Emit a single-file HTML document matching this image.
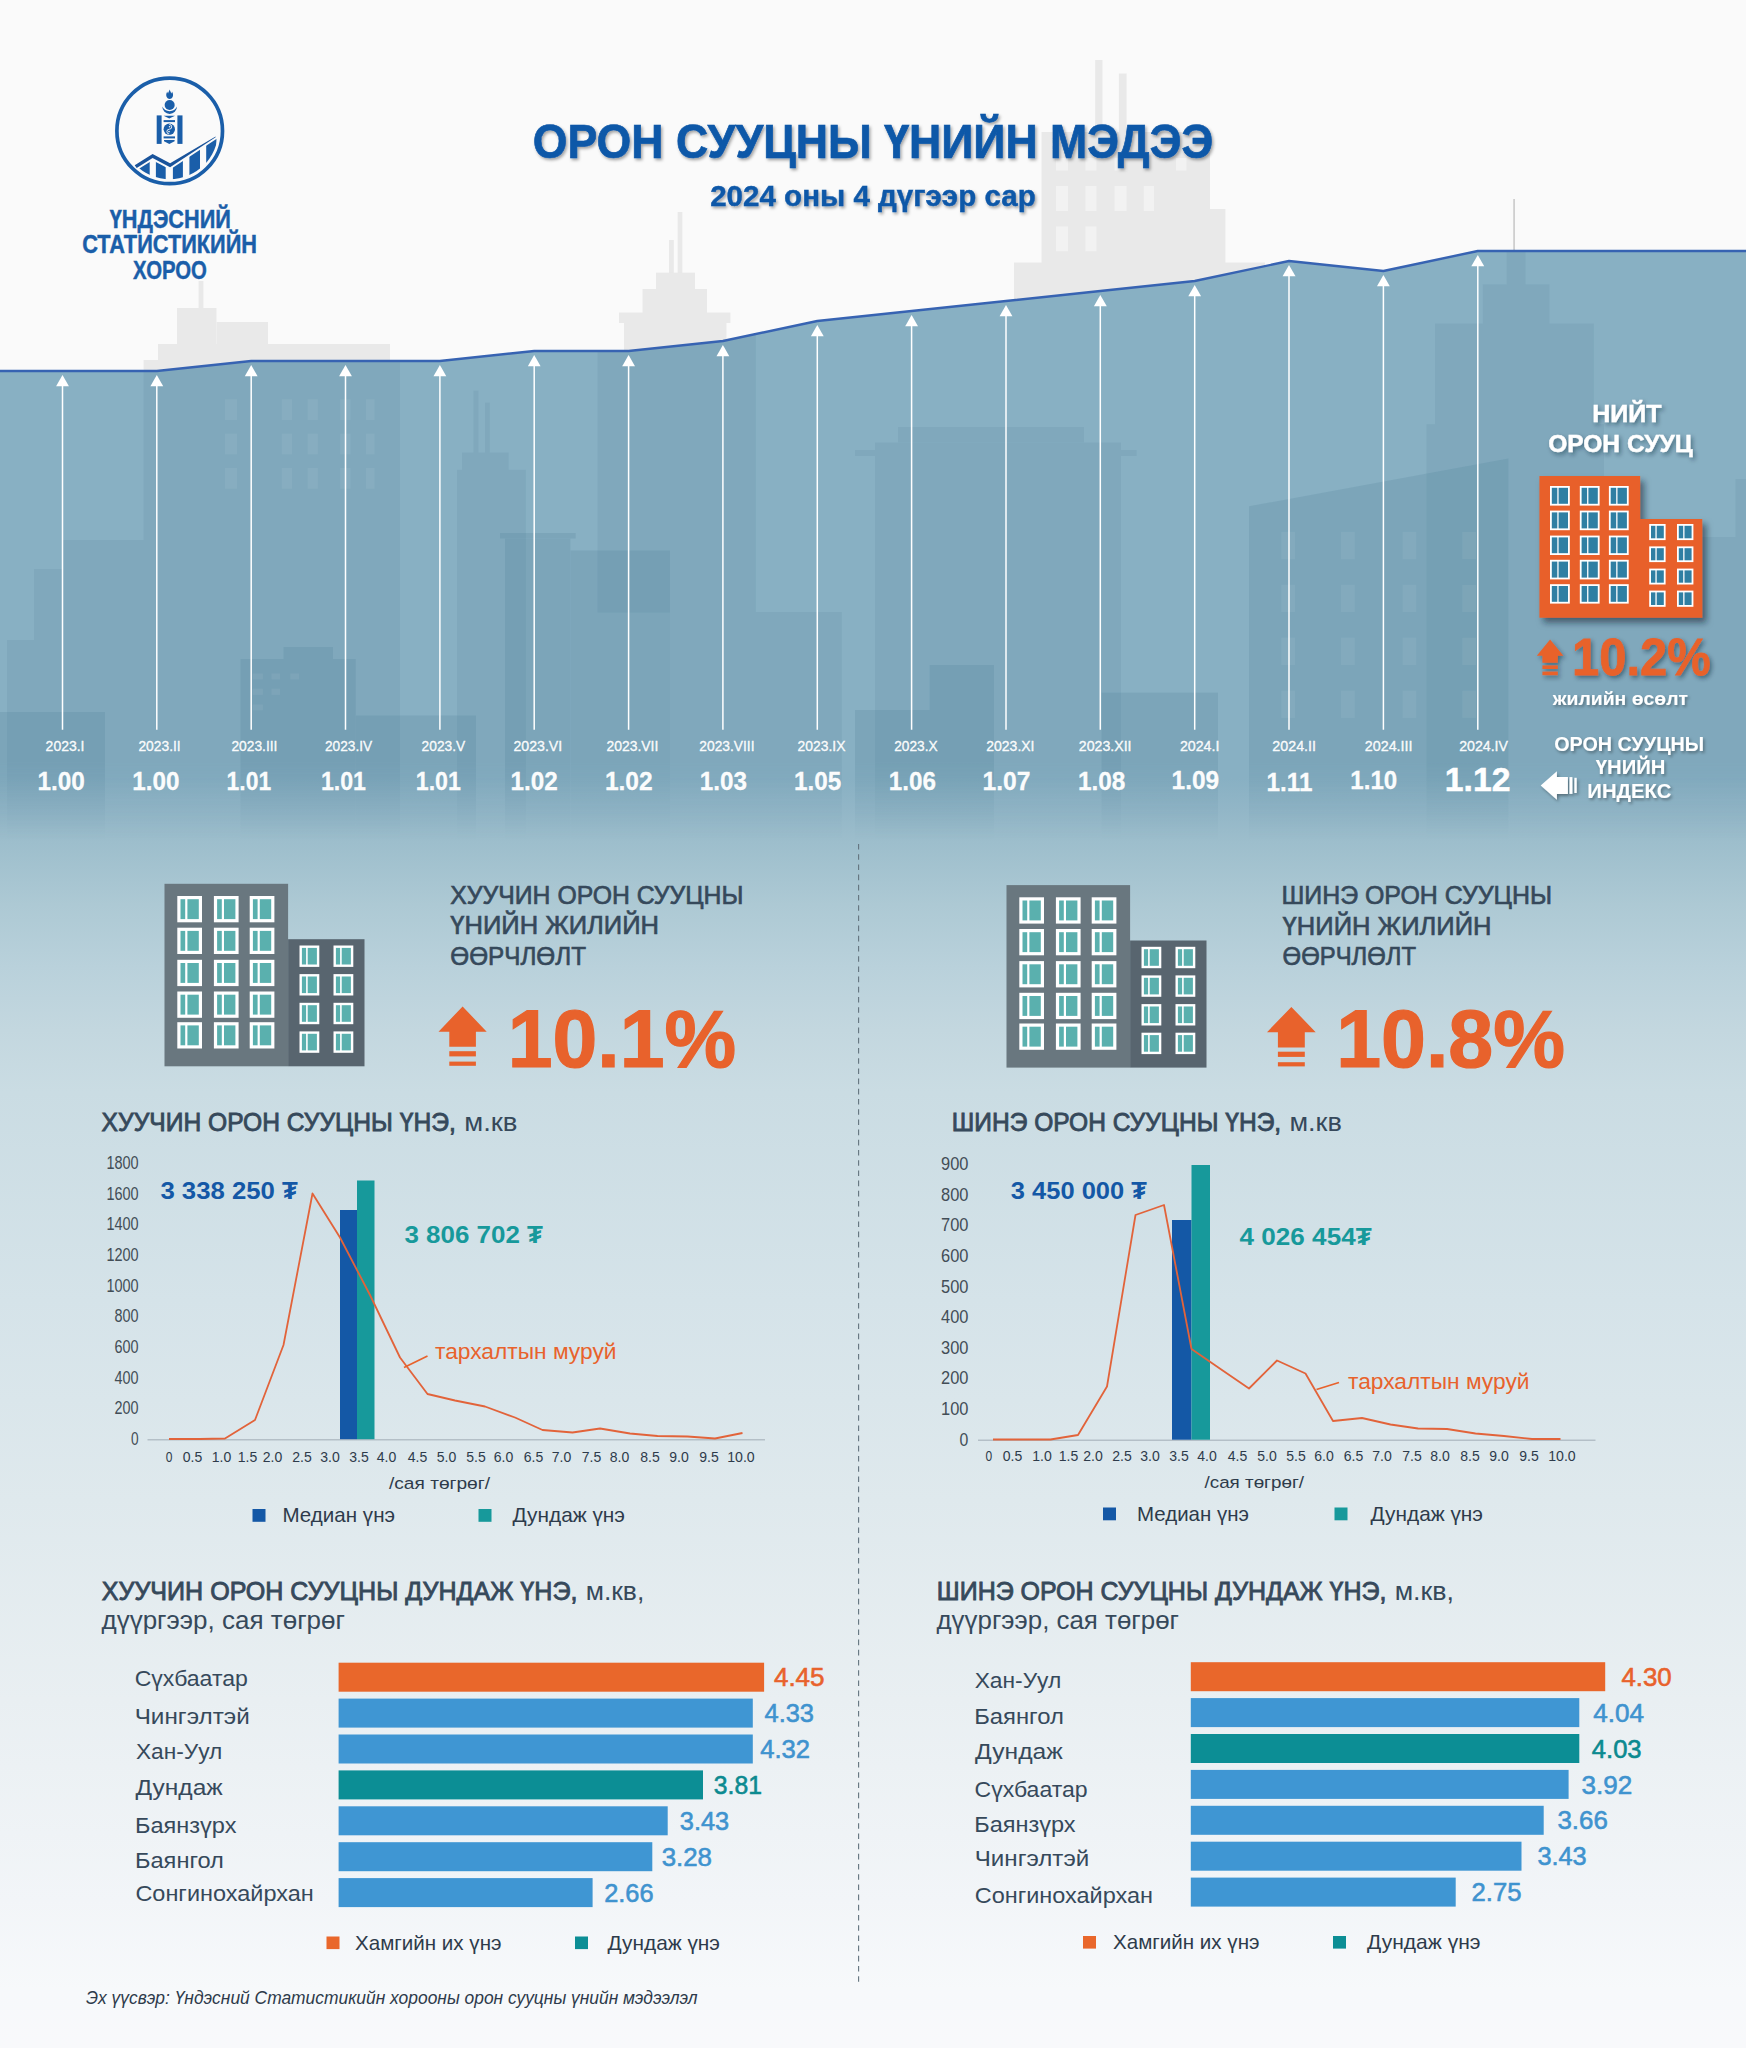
<!DOCTYPE html>
<html lang="mn"><head><meta charset="utf-8"><title>Орон сууцны үнийн мэдээ</title>
<style>
html,body{margin:0;padding:0;background:#fafafa;}
body{width:1746px;height:2048px;overflow:hidden;font-family:"Liberation Sans",sans-serif;}
svg{display:block;}
text{white-space:pre;}
</style></head><body>
<svg width="1746" height="2048" viewBox="0 0 1746 2048" font-family='"Liberation Sans", sans-serif'>
<defs>
<linearGradient id="bgfade" gradientUnits="userSpaceOnUse" x1="0" y1="0" x2="0" y2="2048"><stop offset="0.0000" stop-color="#88b0c3"/><stop offset="0.3800" stop-color="#88b0c3"/><stop offset="0.3955" stop-color="#92b6c7"/><stop offset="0.4111" stop-color="#9dbecc"/><stop offset="0.4419" stop-color="#adc9d4"/><stop offset="0.4722" stop-color="#b9d1db"/><stop offset="0.5029" stop-color="#c3d7df"/><stop offset="0.5332" stop-color="#cadce3"/><stop offset="0.6348" stop-color="#d5e3e9"/><stop offset="0.7324" stop-color="#dfe9ed"/><stop offset="0.8301" stop-color="#e9eff2"/><stop offset="0.9277" stop-color="#f2f5f8"/><stop offset="0.9717" stop-color="#f7f9fb"/><stop offset="1.0000" stop-color="#f8f9fb"/></linearGradient>
<linearGradient id="skyfade" gradientUnits="userSpaceOnUse" x1="0" y1="0" x2="0" y2="2048"><stop offset="0" stop-color="#fff" stop-opacity="1"/><stop offset="0.372" stop-color="#fff" stop-opacity="1"/><stop offset="0.41" stop-color="#fff" stop-opacity="0"/></linearGradient>
<clipPath id="areaclip"><polygon points="0.0,371.0 62.5,371.0 156.8,371.0 251.2,361.0 345.5,361.0 439.9,361.0 534.2,351.0 628.6,351.0 722.9,341.0 817.3,321.0 911.6,311.0 1006.0,301.0 1100.3,291.0 1194.7,281.0 1289.0,261.0 1383.4,271.0 1477.8,251.0 1746.0,251.0 1746,2048 0,2048"/></clipPath>
<mask id="skymask"><rect x="0" y="0" width="1746" height="2048" fill="url(#skyfade)"/></mask>
<filter id="ts" x="-10%" y="-20%" width="120%" height="150%"><feDropShadow dx="1.5" dy="2" stdDeviation="1.6" flood-color="#000" flood-opacity="0.35"/></filter>
<filter id="ts2" x="-10%" y="-20%" width="120%" height="150%"><feDropShadow dx="2" dy="2.5" stdDeviation="2" flood-color="#123" flood-opacity="0.45"/></filter>
<filter id="bs" x="-10%" y="-10%" width="125%" height="125%"><feDropShadow dx="4" dy="5" stdDeviation="3.2" flood-color="#0c2030" flood-opacity="0.55"/></filter>
</defs>
<rect x="0" y="0" width="1746" height="2048" fill="#fafafa" />
<g id="skylight" fill="#e9e9e9"><rect x="198.6" y="281" width="4.8" height="139"/><rect x="177" y="308" width="39.5" height="112"/><rect x="216.5" y="322" width="51.5" height="98"/><rect x="158" y="344" width="232" height="76"/><rect x="143.6" y="360" width="14.4" height="60"/><rect x="677.7" y="212" width="4.6" height="208"/><rect x="669" y="240" width="4.8" height="180"/><rect x="656" y="272.7" width="39" height="147.3"/><rect x="642.5" y="289" width="64.5" height="131"/><rect x="619" y="312.5" width="111.4" height="10.5"/><rect x="624" y="323" width="102.5" height="97"/><rect x="1095.2" y="60" width="7.3" height="360"/><rect x="1118.9" y="73.5" width="7.7" height="346.5"/><rect x="1041.5" y="132" width="168.5" height="288"/><rect x="1210" y="209" width="15.4" height="211"/><rect x="1014" y="262.5" width="251" height="157.5"/><rect x="1056" y="186" width="12" height="25" fill="#f2f2f2"/><rect x="1085.4" y="186" width="11.1" height="25" fill="#f2f2f2"/><rect x="1114.6" y="186" width="12.0" height="25" fill="#f2f2f2"/><rect x="1143.8" y="186" width="10.2" height="25" fill="#f2f2f2"/><rect x="1056" y="226.4" width="12" height="24.9" fill="#f2f2f2"/><rect x="1085.4" y="226.4" width="11.1" height="24.9" fill="#f2f2f2"/><rect x="1056" y="158" width="12" height="12.6" fill="#f2f2f2"/><rect x="1085.4" y="158" width="11.1" height="12.6" fill="#f2f2f2"/><rect x="1114.6" y="158" width="12.0" height="12.6" fill="#f2f2f2"/><rect x="1176" y="158" width="10.5" height="12.6" fill="#f2f2f2"/><rect x="1513.2" y="199" width="1.8" height="61" fill="#cfcfcf"/></g>
<polygon points="0.0,371.0 62.5,371.0 156.8,371.0 251.2,361.0 345.5,361.0 439.9,361.0 534.2,351.0 628.6,351.0 722.9,341.0 817.3,321.0 911.6,311.0 1006.0,301.0 1100.3,291.0 1194.7,281.0 1289.0,261.0 1383.4,271.0 1477.8,251.0 1746.0,251.0 1746,2048 0,2048" fill="url(#bgfade)"/>
<g clip-path="url(#areaclip)"><g mask="url(#skymask)" fill="#3f6f8b"><g opacity="0.11"><rect x="143.6" y="340" width="256.4" height="590"/><rect x="62" y="540" width="151" height="390"/><rect x="34" y="571" width="28" height="359"/><rect x="34" y="569" width="45" height="8"/><rect x="7" y="640" width="41" height="290"/><rect x="462" y="452.6" width="46.6" height="477.4"/><rect x="457" y="469.8" width="68.8" height="460.2"/><rect x="473.5" y="390.7" width="4.9" height="62.3"/><rect x="485" y="402.7" width="4.7" height="50.3"/><rect x="597.6" y="300" width="158.2" height="312.5"/><rect x="670" y="612" width="171.7" height="318"/><rect x="875" y="442.6" width="246" height="487.4"/><rect x="898" y="427" width="186" height="15.6"/><rect x="855" y="450" width="281.6" height="6"/><rect x="1506.7" y="240" width="18.8" height="51"/><rect x="1482.8" y="284.4" width="66.6" height="39.6"/><rect x="1435" y="323.6" width="158.8" height="101.4"/><rect x="1426.5" y="424.3" width="177.5" height="505.7"/><rect x="1604" y="537" width="142" height="393"/><rect x="1735.5" y="479" width="10.5" height="58"/></g><g opacity="0.16"><rect x="0" y="712" width="105" height="218"/><rect x="240.5" y="659" width="115.2" height="271"/><rect x="283.5" y="647" width="49.5" height="12"/><rect x="355.7" y="715.5" width="120.3" height="214.5"/><rect x="505" y="538.5" width="65.4" height="391.5"/><rect x="500" y="533" width="75.6" height="5.5"/><rect x="570.4" y="550.5" width="99.6" height="379.5"/><rect x="855" y="710" width="139" height="220"/><rect x="929.6" y="665" width="64.4" height="45"/><rect x="1101.5" y="692.6" width="116.5" height="237.4"/><polygon points="1249,506.3 1508.4,458.5 1508.4,930 1249,930"/></g><g opacity="0.055" fill="#fff"><rect x="1281.4" y="531.9" width="13.6" height="27.3"/><rect x="1281.4" y="584.8" width="13.6" height="27.2"/><rect x="1281.4" y="637.7" width="13.6" height="27.3"/><rect x="1281.4" y="690.6" width="13.6" height="27.3"/><rect x="1341" y="531.9" width="13.8" height="27.3"/><rect x="1341" y="584.8" width="13.8" height="27.2"/><rect x="1341" y="637.7" width="13.8" height="27.3"/><rect x="1341" y="690.6" width="13.8" height="27.3"/><rect x="1402.6" y="531.9" width="13.6" height="27.3"/><rect x="1402.6" y="584.8" width="13.6" height="27.2"/><rect x="1402.6" y="637.7" width="13.6" height="27.3"/><rect x="1402.6" y="690.6" width="13.6" height="27.3"/><rect x="1462.3" y="531.9" width="13.7" height="27.3"/><rect x="1462.3" y="584.8" width="13.7" height="27.2"/><rect x="1462.3" y="637.7" width="13.7" height="27.3"/><rect x="1462.3" y="690.6" width="13.7" height="27.3"/><rect x="252.6" y="673.5" width="10.3" height="5.9"/><rect x="271.5" y="673.5" width="8.5" height="5.9"/><rect x="290.4" y="673.5" width="8.6" height="5.9"/><rect x="252.6" y="688.7" width="10.3" height="6.1"/><rect x="271.5" y="688.7" width="8.5" height="6.1"/><rect x="252.6" y="704.5" width="10.3" height="5.8"/><rect x="225" y="399.3" width="12" height="20.7"/><rect x="225" y="433.7" width="12" height="20.6"/><rect x="225" y="468" width="12" height="20.7"/><rect x="281.8" y="399.3" width="10.2" height="20.7"/><rect x="281.8" y="433.7" width="10.2" height="20.6"/><rect x="281.8" y="468" width="10.2" height="20.7"/><rect x="307.6" y="399.3" width="10.3" height="20.7"/><rect x="307.6" y="433.7" width="10.3" height="20.6"/><rect x="307.6" y="468" width="10.3" height="20.7"/><rect x="340.2" y="399.3" width="10.3" height="20.7"/><rect x="340.2" y="433.7" width="10.3" height="20.6"/><rect x="340.2" y="468" width="10.3" height="20.7"/><rect x="366" y="399.3" width="8.6" height="20.7"/><rect x="366" y="433.7" width="8.6" height="20.6"/><rect x="366" y="468" width="8.6" height="20.7"/></g></g></g>
<polyline points="0.0,371.0 62.5,371.0 156.8,371.0 251.2,361.0 345.5,361.0 439.9,361.0 534.2,351.0 628.6,351.0 722.9,341.0 817.3,321.0 911.6,311.0 1006.0,301.0 1100.3,291.0 1194.7,281.0 1289.0,261.0 1383.4,271.0 1477.8,251.0 1746.0,251.0" fill="none" stroke="#3763b2" stroke-width="2.4" stroke-linejoin="round"/>
<line x1="62.5" y1="383.0" x2="62.5" y2="729.7" stroke="#fff" stroke-width="1.5"/>
<polygon points="62.5,375.0 56.1,386.2 68.9,386.2" fill="#fff"/>
<line x1="156.8" y1="383.0" x2="156.8" y2="729.7" stroke="#fff" stroke-width="1.5"/>
<polygon points="156.8,375.0 150.4,386.2 163.2,386.2" fill="#fff"/>
<line x1="251.2" y1="373.0" x2="251.2" y2="729.7" stroke="#fff" stroke-width="1.5"/>
<polygon points="251.2,365.0 244.8,376.2 257.6,376.2" fill="#fff"/>
<line x1="345.5" y1="373.0" x2="345.5" y2="729.7" stroke="#fff" stroke-width="1.5"/>
<polygon points="345.5,365.0 339.1,376.2 351.9,376.2" fill="#fff"/>
<line x1="439.9" y1="373.0" x2="439.9" y2="729.7" stroke="#fff" stroke-width="1.5"/>
<polygon points="439.9,365.0 433.5,376.2 446.3,376.2" fill="#fff"/>
<line x1="534.2" y1="363.0" x2="534.2" y2="729.7" stroke="#fff" stroke-width="1.5"/>
<polygon points="534.2,355.0 527.9,366.2 540.6,366.2" fill="#fff"/>
<line x1="628.6" y1="363.0" x2="628.6" y2="729.7" stroke="#fff" stroke-width="1.5"/>
<polygon points="628.6,355.0 622.2,366.2 635.0,366.2" fill="#fff"/>
<line x1="722.9" y1="353.0" x2="722.9" y2="729.7" stroke="#fff" stroke-width="1.5"/>
<polygon points="722.9,345.0 716.5,356.2 729.3,356.2" fill="#fff"/>
<line x1="817.3" y1="333.0" x2="817.3" y2="729.7" stroke="#fff" stroke-width="1.5"/>
<polygon points="817.3,325.0 810.9,336.2 823.7,336.2" fill="#fff"/>
<line x1="911.6" y1="323.0" x2="911.6" y2="729.7" stroke="#fff" stroke-width="1.5"/>
<polygon points="911.6,315.0 905.2,326.2 918.0,326.2" fill="#fff"/>
<line x1="1006.0" y1="313.0" x2="1006.0" y2="729.7" stroke="#fff" stroke-width="1.5"/>
<polygon points="1006.0,305.0 999.6,316.2 1012.4,316.2" fill="#fff"/>
<line x1="1100.3" y1="303.0" x2="1100.3" y2="729.7" stroke="#fff" stroke-width="1.5"/>
<polygon points="1100.3,295.0 1093.9,306.2 1106.8,306.2" fill="#fff"/>
<line x1="1194.7" y1="293.0" x2="1194.7" y2="729.7" stroke="#fff" stroke-width="1.5"/>
<polygon points="1194.7,285.0 1188.3,296.2 1201.1,296.2" fill="#fff"/>
<line x1="1289.0" y1="273.0" x2="1289.0" y2="729.7" stroke="#fff" stroke-width="1.5"/>
<polygon points="1289.0,265.0 1282.6,276.2 1295.5,276.2" fill="#fff"/>
<line x1="1383.4" y1="283.0" x2="1383.4" y2="729.7" stroke="#fff" stroke-width="1.5"/>
<polygon points="1383.4,275.0 1377.0,286.2 1389.8,286.2" fill="#fff"/>
<line x1="1477.8" y1="263.0" x2="1477.8" y2="729.7" stroke="#fff" stroke-width="1.5"/>
<polygon points="1477.8,255.0 1471.3,266.2 1484.2,266.2" fill="#fff"/>
<text x="45.6" y="751.3" font-size="14.8" fill="#fff" textLength="38.9" lengthAdjust="spacingAndGlyphs" stroke="#fff" stroke-width="0.4" fill-opacity="0.95" stroke-opacity="0.9">2023.I</text>
<text x="138.4" y="751.3" font-size="14.8" fill="#fff" textLength="42.3" lengthAdjust="spacingAndGlyphs" stroke="#fff" stroke-width="0.4" fill-opacity="0.95" stroke-opacity="0.9">2023.II</text>
<text x="231.4" y="751.3" font-size="14.8" fill="#fff" textLength="46.0" lengthAdjust="spacingAndGlyphs" stroke="#fff" stroke-width="0.4" fill-opacity="0.95" stroke-opacity="0.9">2023.III</text>
<text x="324.9" y="751.3" font-size="14.8" fill="#fff" textLength="47.3" lengthAdjust="spacingAndGlyphs" stroke="#fff" stroke-width="0.4" fill-opacity="0.95" stroke-opacity="0.9">2023.IV</text>
<text x="421.6" y="751.3" font-size="14.8" fill="#fff" textLength="43.6" lengthAdjust="spacingAndGlyphs" stroke="#fff" stroke-width="0.4" fill-opacity="0.95" stroke-opacity="0.9">2023.V</text>
<text x="513.5" y="751.3" font-size="14.8" fill="#fff" textLength="48.7" lengthAdjust="spacingAndGlyphs" stroke="#fff" stroke-width="0.4" fill-opacity="0.95" stroke-opacity="0.9">2023.VI</text>
<text x="606.5" y="751.3" font-size="14.8" fill="#fff" textLength="51.8" lengthAdjust="spacingAndGlyphs" stroke="#fff" stroke-width="0.4" fill-opacity="0.95" stroke-opacity="0.9">2023.VII</text>
<text x="699.3" y="751.3" font-size="14.8" fill="#fff" textLength="55.2" lengthAdjust="spacingAndGlyphs" stroke="#fff" stroke-width="0.4" fill-opacity="0.95" stroke-opacity="0.9">2023.VIII</text>
<text x="797.5" y="751.3" font-size="14.8" fill="#fff" textLength="47.9" lengthAdjust="spacingAndGlyphs" stroke="#fff" stroke-width="0.4" fill-opacity="0.95" stroke-opacity="0.9">2023.IX</text>
<text x="894.2" y="751.3" font-size="14.8" fill="#fff" textLength="43.4" lengthAdjust="spacingAndGlyphs" stroke="#fff" stroke-width="0.4" fill-opacity="0.95" stroke-opacity="0.9">2023.X</text>
<text x="986.3" y="751.3" font-size="14.8" fill="#fff" textLength="48.2" lengthAdjust="spacingAndGlyphs" stroke="#fff" stroke-width="0.4" fill-opacity="0.95" stroke-opacity="0.9">2023.XI</text>
<text x="1078.8" y="751.3" font-size="14.8" fill="#fff" textLength="52.7" lengthAdjust="spacingAndGlyphs" stroke="#fff" stroke-width="0.4" fill-opacity="0.95" stroke-opacity="0.9">2023.XII</text>
<text x="1179.9" y="751.3" font-size="14.8" fill="#fff" textLength="39.5" lengthAdjust="spacingAndGlyphs" stroke="#fff" stroke-width="0.4" fill-opacity="0.95" stroke-opacity="0.9">2024.I</text>
<text x="1272.3" y="751.3" font-size="14.8" fill="#fff" textLength="43.7" lengthAdjust="spacingAndGlyphs" stroke="#fff" stroke-width="0.4" fill-opacity="0.95" stroke-opacity="0.9">2024.II</text>
<text x="1364.8" y="751.3" font-size="14.8" fill="#fff" textLength="47.7" lengthAdjust="spacingAndGlyphs" stroke="#fff" stroke-width="0.4" fill-opacity="0.95" stroke-opacity="0.9">2024.III</text>
<text x="1459.2" y="751.3" font-size="14.8" fill="#fff" textLength="48.8" lengthAdjust="spacingAndGlyphs" stroke="#fff" stroke-width="0.4" fill-opacity="0.95" stroke-opacity="0.9">2024.IV</text>
<text x="37.5" y="790.2" font-size="25" fill="#fff" font-weight="bold" textLength="47.4" lengthAdjust="spacingAndGlyphs" stroke="#fff" stroke-width="0.3" fill-opacity="0.97">1.00</text>
<text x="132.3" y="790.2" font-size="25" fill="#fff" font-weight="bold" textLength="47.2" lengthAdjust="spacingAndGlyphs" stroke="#fff" stroke-width="0.3" fill-opacity="0.97">1.00</text>
<text x="226.6" y="790.2" font-size="25" fill="#fff" font-weight="bold" textLength="44.6" lengthAdjust="spacingAndGlyphs" stroke="#fff" stroke-width="0.3" fill-opacity="0.97">1.01</text>
<text x="320.9" y="790.2" font-size="25" fill="#fff" font-weight="bold" textLength="45.1" lengthAdjust="spacingAndGlyphs" stroke="#fff" stroke-width="0.3" fill-opacity="0.97">1.01</text>
<text x="415.8" y="790.2" font-size="25" fill="#fff" font-weight="bold" textLength="45.1" lengthAdjust="spacingAndGlyphs" stroke="#fff" stroke-width="0.3" fill-opacity="0.97">1.01</text>
<text x="510.6" y="790.2" font-size="25" fill="#fff" font-weight="bold" textLength="47.2" lengthAdjust="spacingAndGlyphs" stroke="#fff" stroke-width="0.3" fill-opacity="0.97">1.02</text>
<text x="604.9" y="790.2" font-size="25" fill="#fff" font-weight="bold" textLength="47.8" lengthAdjust="spacingAndGlyphs" stroke="#fff" stroke-width="0.3" fill-opacity="0.97">1.02</text>
<text x="699.8" y="790.2" font-size="25" fill="#fff" font-weight="bold" textLength="47.2" lengthAdjust="spacingAndGlyphs" stroke="#fff" stroke-width="0.3" fill-opacity="0.97">1.03</text>
<text x="794.1" y="790.2" font-size="25" fill="#fff" font-weight="bold" textLength="47.2" lengthAdjust="spacingAndGlyphs" stroke="#fff" stroke-width="0.3" fill-opacity="0.97">1.05</text>
<text x="888.7" y="790.2" font-size="25" fill="#fff" font-weight="bold" textLength="47.2" lengthAdjust="spacingAndGlyphs" stroke="#fff" stroke-width="0.3" fill-opacity="0.97">1.06</text>
<text x="982.5" y="790.2" font-size="25" fill="#fff" font-weight="bold" textLength="47.9" lengthAdjust="spacingAndGlyphs" stroke="#fff" stroke-width="0.3" fill-opacity="0.97">1.07</text>
<text x="1078.0" y="790.2" font-size="25" fill="#fff" font-weight="bold" textLength="47.4" lengthAdjust="spacingAndGlyphs" stroke="#fff" stroke-width="0.3" fill-opacity="0.97">1.08</text>
<text x="1171.6" y="789" font-size="25" fill="#fff" font-weight="bold" textLength="47.6" lengthAdjust="spacingAndGlyphs" stroke="#fff" stroke-width="0.3" fill-opacity="0.97">1.09</text>
<text x="1266.6" y="790.7" font-size="25" fill="#fff" font-weight="bold" textLength="45.8" lengthAdjust="spacingAndGlyphs" stroke="#fff" stroke-width="0.3" fill-opacity="0.97">1.11</text>
<text x="1350.3" y="788.6" font-size="25" fill="#fff" font-weight="bold" textLength="46.9" lengthAdjust="spacingAndGlyphs" stroke="#fff" stroke-width="0.3" fill-opacity="0.97">1.10</text>
<text x="1444.8" y="790.7" font-size="34" fill="#fff" font-weight="bold" textLength="65.6" lengthAdjust="spacingAndGlyphs" stroke="#fff" stroke-width="0.5">1.12</text>
<circle cx="169.7" cy="130.9" r="52.8" fill="none" stroke="#1a5ea9" stroke-width="3.7"/>
<g fill="#1a5ea9">
<path d="M169.66 89.6 C170.3 91.5 171 92.3 171.2 93.6 C171.8 92.9 172 92.2 172 91.6 C173.2 93.4 173.4 95.5 172.6 97 C172 98.2 170.9 98.9 169.66 98.9 C168.4 98.9 167.3 98.2 166.7 97 C165.9 95.5 166.1 93.4 167.3 91.6 C167.3 92.2 167.5 92.9 168.1 93.6 C168.3 92.3 169 91.5 169.66 89.6 Z"/>
<circle cx="169.66" cy="105.05" r="5"/>
<path d="M162.3 106.6 A7.35 7.35 0 0 0 177 106.6 A8.2 8.2 0 0 1 162.3 106.6 Z"/>
<rect x="156.7" y="115.4" width="4.9" height="28.5" fill="#1a5ea9" />
<rect x="177.4" y="115.4" width="5.1" height="28.5" fill="#1a5ea9" />
<path d="M163.6 115.8 H175 L169.3 118.6 Z"/>
<rect x="163.6" y="120.1" width="11.4" height="2" fill="#1a5ea9" />
<circle cx="169.3" cy="129.2" r="5.7"/>
<rect x="163.6" y="136.4" width="11.4" height="2" fill="#1a5ea9" />
<path d="M164 140 H174.6 V141.3 L169.3 144 L164 141.3 Z"/>
</g>
<path d="M169.3 124.4 A2.4 2.4 0 0 1 169.3 129.2 A2.4 2.4 0 0 0 169.3 134" fill="none" stroke="#fafafa" stroke-width="0.9"/>
<circle cx="169.6" cy="126.8" r="0.8" fill="#fafafa"/><circle cx="169" cy="131.6" r="0.8" fill="#fafafa"/>
<path d="M134.7 165.2 L152.6 154 L170.1 163.3 L215.6 136.4 L215.6 137.3 L170.1 167.2 L152.6 157.9 L136.7 167.9 Z" fill="#19539b"/>
<clipPath id="lgc"><circle cx="169.7" cy="130.9" r="48.4"/></clipPath>
<clipPath id="lgp"><path d="M130 174.2 L136.5 170.2 L152.6 160.2 L170.1 169.5 L215.6 139.6 L225 133.4 V190 H130 Z"/></clipPath>
<g clip-path="url(#lgc)"><g clip-path="url(#lgp)" fill="#1a5ea9">
<rect x="139.2" y="130" width="10.5" height="60" fill="#1a5ea9" />
<rect x="155.9" y="130" width="9.8" height="60" fill="#1a5ea9" />
<rect x="172.9" y="130" width="10.0" height="60" fill="#1a5ea9" />
<rect x="189.4" y="130" width="10.6" height="60" fill="#1a5ea9" />
<rect x="206.2" y="130" width="10.2" height="60" fill="#1a5ea9" />
</g></g>
<text x="109.7" y="228.4" font-size="25" fill="#1a5ea9" font-weight="bold" textLength="121.2" lengthAdjust="spacingAndGlyphs" stroke="#1a5ea9" stroke-width="0.45">ҮНДЭСНИЙ</text>
<text x="82.2" y="253.2" font-size="25" fill="#1a5ea9" font-weight="bold" textLength="174.8" lengthAdjust="spacingAndGlyphs" stroke="#1a5ea9" stroke-width="0.45">СТАТИСТИКИЙН</text>
<text x="133.1" y="278.6" font-size="25" fill="#1a5ea9" font-weight="bold" textLength="73.8" lengthAdjust="spacingAndGlyphs" stroke="#1a5ea9" stroke-width="0.45">ХОРОО</text>
<g filter="url(#ts)">
<text x="532.7" y="157.6" font-size="47.2" fill="#1158a8" font-weight="bold" textLength="680.5" lengthAdjust="spacingAndGlyphs" stroke="#1158a8" stroke-width="0.7">ОРОН СУУЦНЫ ҮНИЙН МЭДЭЭ</text>
<text x="710.2" y="205.8" font-size="28.8" fill="#1158a8" font-weight="bold" textLength="325.5" lengthAdjust="spacingAndGlyphs" stroke="#1158a8" stroke-width="0.45">2024 оны 4 дүгээр сар</text>
</g>
<g filter="url(#ts2)">
<text x="1592.2" y="421.8" font-size="24" fill="#fff" font-weight="bold" textLength="69.3" lengthAdjust="spacingAndGlyphs" stroke="#fff" stroke-width="0.4">НИЙТ</text>
<text x="1548.2" y="452" font-size="24" fill="#fff" font-weight="bold" textLength="144.5" lengthAdjust="spacingAndGlyphs" stroke="#fff" stroke-width="0.4">ОРОН СУУЦ</text>
</g>
<g filter="url(#bs)">
<path d="M1539.4 476 H1640.2 V519 H1702.3 V617.8 H1539.4 Z" fill="#e8612c"/>
</g>
<rect x="1550" y="486" width="19.8" height="19.6" fill="#fff"/>
<rect x="1551.8" y="487.8" width="5.5" height="16.0" fill="#2f7fa3"/>
<rect x="1558.6" y="487.8" width="9.4" height="16.0" fill="#2f7fa3"/>
<rect x="1550" y="510.6" width="19.8" height="19.6" fill="#fff"/>
<rect x="1551.8" y="512.4" width="5.5" height="16.0" fill="#2f7fa3"/>
<rect x="1558.6" y="512.4" width="9.4" height="16.0" fill="#2f7fa3"/>
<rect x="1550" y="535.6" width="19.8" height="19.4" fill="#fff"/>
<rect x="1551.8" y="537.4" width="5.5" height="15.8" fill="#2f7fa3"/>
<rect x="1558.6" y="537.4" width="9.4" height="15.8" fill="#2f7fa3"/>
<rect x="1550" y="559.8" width="19.8" height="19.6" fill="#fff"/>
<rect x="1551.8" y="561.6" width="5.5" height="16.0" fill="#2f7fa3"/>
<rect x="1558.6" y="561.6" width="9.4" height="16.0" fill="#2f7fa3"/>
<rect x="1550" y="584.2" width="19.8" height="19.4" fill="#fff"/>
<rect x="1551.8" y="586.0" width="5.5" height="15.8" fill="#2f7fa3"/>
<rect x="1558.6" y="586.0" width="9.4" height="15.8" fill="#2f7fa3"/>
<rect x="1579.8" y="486" width="19.8" height="19.6" fill="#fff"/>
<rect x="1581.6" y="487.8" width="5.5" height="16.0" fill="#2f7fa3"/>
<rect x="1588.4" y="487.8" width="9.4" height="16.0" fill="#2f7fa3"/>
<rect x="1579.8" y="510.6" width="19.8" height="19.6" fill="#fff"/>
<rect x="1581.6" y="512.4" width="5.5" height="16.0" fill="#2f7fa3"/>
<rect x="1588.4" y="512.4" width="9.4" height="16.0" fill="#2f7fa3"/>
<rect x="1579.8" y="535.6" width="19.8" height="19.4" fill="#fff"/>
<rect x="1581.6" y="537.4" width="5.5" height="15.8" fill="#2f7fa3"/>
<rect x="1588.4" y="537.4" width="9.4" height="15.8" fill="#2f7fa3"/>
<rect x="1579.8" y="559.8" width="19.8" height="19.6" fill="#fff"/>
<rect x="1581.6" y="561.6" width="5.5" height="16.0" fill="#2f7fa3"/>
<rect x="1588.4" y="561.6" width="9.4" height="16.0" fill="#2f7fa3"/>
<rect x="1579.8" y="584.2" width="19.8" height="19.4" fill="#fff"/>
<rect x="1581.6" y="586.0" width="5.5" height="15.8" fill="#2f7fa3"/>
<rect x="1588.4" y="586.0" width="9.4" height="15.8" fill="#2f7fa3"/>
<rect x="1608.9" y="486" width="19.8" height="19.6" fill="#fff"/>
<rect x="1610.7" y="487.8" width="5.5" height="16.0" fill="#2f7fa3"/>
<rect x="1617.5" y="487.8" width="9.4" height="16.0" fill="#2f7fa3"/>
<rect x="1608.9" y="510.6" width="19.8" height="19.6" fill="#fff"/>
<rect x="1610.7" y="512.4" width="5.5" height="16.0" fill="#2f7fa3"/>
<rect x="1617.5" y="512.4" width="9.4" height="16.0" fill="#2f7fa3"/>
<rect x="1608.9" y="535.6" width="19.8" height="19.4" fill="#fff"/>
<rect x="1610.7" y="537.4" width="5.5" height="15.8" fill="#2f7fa3"/>
<rect x="1617.5" y="537.4" width="9.4" height="15.8" fill="#2f7fa3"/>
<rect x="1608.9" y="559.8" width="19.8" height="19.6" fill="#fff"/>
<rect x="1610.7" y="561.6" width="5.5" height="16.0" fill="#2f7fa3"/>
<rect x="1617.5" y="561.6" width="9.4" height="16.0" fill="#2f7fa3"/>
<rect x="1608.9" y="584.2" width="19.8" height="19.4" fill="#fff"/>
<rect x="1610.7" y="586.0" width="5.5" height="15.8" fill="#2f7fa3"/>
<rect x="1617.5" y="586.0" width="9.4" height="15.8" fill="#2f7fa3"/>
<rect x="1649.2" y="524" width="16.4" height="16.1" fill="#fff"/>
<rect x="1651.0" y="525.8" width="4.4" height="12.5" fill="#2f7fa3"/>
<rect x="1656.7" y="525.8" width="7.1" height="12.5" fill="#2f7fa3"/>
<rect x="1649.2" y="546.4" width="16.4" height="15.7" fill="#fff"/>
<rect x="1651.0" y="548.2" width="4.4" height="12.1" fill="#2f7fa3"/>
<rect x="1656.7" y="548.2" width="7.1" height="12.1" fill="#2f7fa3"/>
<rect x="1649.2" y="568.6" width="16.4" height="15.9" fill="#fff"/>
<rect x="1651.0" y="570.4" width="4.4" height="12.3" fill="#2f7fa3"/>
<rect x="1656.7" y="570.4" width="7.1" height="12.3" fill="#2f7fa3"/>
<rect x="1649.2" y="590.6" width="16.4" height="16.2" fill="#fff"/>
<rect x="1651.0" y="592.4" width="4.4" height="12.6" fill="#2f7fa3"/>
<rect x="1656.7" y="592.4" width="7.1" height="12.6" fill="#2f7fa3"/>
<rect x="1677" y="524" width="16.4" height="16.1" fill="#fff"/>
<rect x="1678.8" y="525.8" width="4.4" height="12.5" fill="#2f7fa3"/>
<rect x="1684.5" y="525.8" width="7.1" height="12.5" fill="#2f7fa3"/>
<rect x="1677" y="546.4" width="16.4" height="15.7" fill="#fff"/>
<rect x="1678.8" y="548.2" width="4.4" height="12.1" fill="#2f7fa3"/>
<rect x="1684.5" y="548.2" width="7.1" height="12.1" fill="#2f7fa3"/>
<rect x="1677" y="568.6" width="16.4" height="15.9" fill="#fff"/>
<rect x="1678.8" y="570.4" width="4.4" height="12.3" fill="#2f7fa3"/>
<rect x="1684.5" y="570.4" width="7.1" height="12.3" fill="#2f7fa3"/>
<rect x="1677" y="590.6" width="16.4" height="16.2" fill="#fff"/>
<rect x="1678.8" y="592.4" width="4.4" height="12.6" fill="#2f7fa3"/>
<rect x="1684.5" y="592.4" width="7.1" height="12.6" fill="#2f7fa3"/>
<g filter="url(#ts2)">
<path d="M1550.1 639.5 L1563.4 655.8 H1557.8 V662.8 H1542.4 V655.8 H1536.8 Z" fill="#e8622c"/>
<rect x="1542.4" y="665.4" width="15.4" height="3.6" fill="#e8622c"/>
<rect x="1542.4" y="671.6" width="15.4" height="3.6" fill="#e8622c"/>
<text x="1572.1" y="675.4" font-size="51" fill="#e8622c" font-weight="bold" textLength="138.5" lengthAdjust="spacingAndGlyphs" stroke="#e8622c" stroke-width="0.8">10.2%</text>
</g>
<g filter="url(#ts)">
<text x="1552.8" y="705" font-size="19.2" fill="#fff" font-weight="bold" textLength="135.2" lengthAdjust="spacingAndGlyphs">жилийн өсөлт</text>
</g>
<g filter="url(#ts)">
<text x="1554.2" y="751.3" font-size="19.8" fill="#fff" font-weight="bold" textLength="150" lengthAdjust="spacingAndGlyphs">ОРОН СУУЦНЫ</text>
<text x="1595.8" y="773.7" font-size="19.8" fill="#fff" font-weight="bold" textLength="69.7" lengthAdjust="spacingAndGlyphs">ҮНИЙН</text>
<text x="1587.3" y="797.8" font-size="19.8" fill="#fff" font-weight="bold" textLength="84" lengthAdjust="spacingAndGlyphs">ИНДЕКС</text>
<path d="M1540.7 785.5 L1556.9 771.3 V777.1 H1567.9 V793.9 H1556.9 V799.7 Z" fill="#fff"/>
<rect x="1569.5" y="777.1" width="2.9" height="16.8" fill="#fff" />
<rect x="1574.4" y="777.8" width="2.3" height="15.2" fill="#fff" />
</g>
<line x1="858.6" y1="844" x2="858.6" y2="1982" stroke="#63737e" stroke-width="1.1" stroke-dasharray="5.6 4.6"/>
<rect x="164.5" y="883.8" width="123.6" height="182.5" fill="#69777f" />
<rect x="288.1" y="939.2" width="76.4" height="127.1" fill="#58656f" />
<rect x="177.3" y="896" width="24.7" height="26.3" fill="#fff"/>
<rect x="180.5" y="899.2" width="4.7" height="19.9" fill="#5ab0ae"/>
<rect x="187.4" y="899.2" width="11.4" height="19.9" fill="#5ab0ae"/>
<rect x="177.3" y="927.7" width="24.7" height="26.3" fill="#fff"/>
<rect x="180.5" y="930.9" width="4.7" height="19.9" fill="#5ab0ae"/>
<rect x="187.4" y="930.9" width="11.4" height="19.9" fill="#5ab0ae"/>
<rect x="177.3" y="959.8" width="24.7" height="26.3" fill="#fff"/>
<rect x="180.5" y="963.0" width="4.7" height="19.9" fill="#5ab0ae"/>
<rect x="187.4" y="963.0" width="11.4" height="19.9" fill="#5ab0ae"/>
<rect x="177.3" y="991.5" width="24.7" height="26.3" fill="#fff"/>
<rect x="180.5" y="994.7" width="4.7" height="19.9" fill="#5ab0ae"/>
<rect x="187.4" y="994.7" width="11.4" height="19.9" fill="#5ab0ae"/>
<rect x="177.3" y="1022.2" width="24.7" height="26.3" fill="#fff"/>
<rect x="180.5" y="1025.4" width="4.7" height="19.9" fill="#5ab0ae"/>
<rect x="187.4" y="1025.4" width="11.4" height="19.9" fill="#5ab0ae"/>
<rect x="213.9" y="896" width="24.7" height="26.3" fill="#fff"/>
<rect x="217.1" y="899.2" width="4.7" height="19.9" fill="#5ab0ae"/>
<rect x="224.0" y="899.2" width="11.4" height="19.9" fill="#5ab0ae"/>
<rect x="213.9" y="927.7" width="24.7" height="26.3" fill="#fff"/>
<rect x="217.1" y="930.9" width="4.7" height="19.9" fill="#5ab0ae"/>
<rect x="224.0" y="930.9" width="11.4" height="19.9" fill="#5ab0ae"/>
<rect x="213.9" y="959.8" width="24.7" height="26.3" fill="#fff"/>
<rect x="217.1" y="963.0" width="4.7" height="19.9" fill="#5ab0ae"/>
<rect x="224.0" y="963.0" width="11.4" height="19.9" fill="#5ab0ae"/>
<rect x="213.9" y="991.5" width="24.7" height="26.3" fill="#fff"/>
<rect x="217.1" y="994.7" width="4.7" height="19.9" fill="#5ab0ae"/>
<rect x="224.0" y="994.7" width="11.4" height="19.9" fill="#5ab0ae"/>
<rect x="213.9" y="1022.2" width="24.7" height="26.3" fill="#fff"/>
<rect x="217.1" y="1025.4" width="4.7" height="19.9" fill="#5ab0ae"/>
<rect x="224.0" y="1025.4" width="11.4" height="19.9" fill="#5ab0ae"/>
<rect x="249.7" y="896" width="24.7" height="26.3" fill="#fff"/>
<rect x="252.9" y="899.2" width="4.7" height="19.9" fill="#5ab0ae"/>
<rect x="259.8" y="899.2" width="11.4" height="19.9" fill="#5ab0ae"/>
<rect x="249.7" y="927.7" width="24.7" height="26.3" fill="#fff"/>
<rect x="252.9" y="930.9" width="4.7" height="19.9" fill="#5ab0ae"/>
<rect x="259.8" y="930.9" width="11.4" height="19.9" fill="#5ab0ae"/>
<rect x="249.7" y="959.8" width="24.7" height="26.3" fill="#fff"/>
<rect x="252.9" y="963.0" width="4.7" height="19.9" fill="#5ab0ae"/>
<rect x="259.8" y="963.0" width="11.4" height="19.9" fill="#5ab0ae"/>
<rect x="249.7" y="991.5" width="24.7" height="26.3" fill="#fff"/>
<rect x="252.9" y="994.7" width="4.7" height="19.9" fill="#5ab0ae"/>
<rect x="259.8" y="994.7" width="11.4" height="19.9" fill="#5ab0ae"/>
<rect x="249.7" y="1022.2" width="24.7" height="26.3" fill="#fff"/>
<rect x="252.9" y="1025.4" width="4.7" height="19.9" fill="#5ab0ae"/>
<rect x="259.8" y="1025.4" width="11.4" height="19.9" fill="#5ab0ae"/>
<rect x="299.5" y="945.5" width="19.8" height="21.4" fill="#fff"/>
<rect x="301.9" y="947.9" width="4.2" height="16.6" fill="#5ab0ae"/>
<rect x="307.7" y="947.9" width="9.2" height="16.6" fill="#5ab0ae"/>
<rect x="299.5" y="974.1" width="19.8" height="21.4" fill="#fff"/>
<rect x="301.9" y="976.5" width="4.2" height="16.6" fill="#5ab0ae"/>
<rect x="307.7" y="976.5" width="9.2" height="16.6" fill="#5ab0ae"/>
<rect x="299.5" y="1002.8" width="19.8" height="21.4" fill="#fff"/>
<rect x="301.9" y="1005.2" width="4.2" height="16.6" fill="#5ab0ae"/>
<rect x="307.7" y="1005.2" width="9.2" height="16.6" fill="#5ab0ae"/>
<rect x="299.5" y="1031.4" width="19.8" height="21.4" fill="#fff"/>
<rect x="301.9" y="1033.8" width="4.2" height="16.6" fill="#5ab0ae"/>
<rect x="307.7" y="1033.8" width="9.2" height="16.6" fill="#5ab0ae"/>
<rect x="333.5" y="945.5" width="19.8" height="21.4" fill="#fff"/>
<rect x="335.9" y="947.9" width="4.2" height="16.6" fill="#5ab0ae"/>
<rect x="341.7" y="947.9" width="9.2" height="16.6" fill="#5ab0ae"/>
<rect x="333.5" y="974.1" width="19.8" height="21.4" fill="#fff"/>
<rect x="335.9" y="976.5" width="4.2" height="16.6" fill="#5ab0ae"/>
<rect x="341.7" y="976.5" width="9.2" height="16.6" fill="#5ab0ae"/>
<rect x="333.5" y="1002.8" width="19.8" height="21.4" fill="#fff"/>
<rect x="335.9" y="1005.2" width="4.2" height="16.6" fill="#5ab0ae"/>
<rect x="341.7" y="1005.2" width="9.2" height="16.6" fill="#5ab0ae"/>
<rect x="333.5" y="1031.4" width="19.8" height="21.4" fill="#fff"/>
<rect x="335.9" y="1033.8" width="4.2" height="16.6" fill="#5ab0ae"/>
<rect x="341.7" y="1033.8" width="9.2" height="16.6" fill="#5ab0ae"/>
<rect x="1006.5" y="885.0999999999999" width="123.6" height="182.5" fill="#69777f" />
<rect x="1130.1" y="940.5" width="76.4" height="127.1" fill="#58656f" />
<rect x="1019.3" y="897.3" width="24.7" height="26.3" fill="#fff"/>
<rect x="1022.5" y="900.5" width="4.7" height="19.9" fill="#5ab0ae"/>
<rect x="1029.4" y="900.5" width="11.4" height="19.9" fill="#5ab0ae"/>
<rect x="1019.3" y="929.0" width="24.7" height="26.3" fill="#fff"/>
<rect x="1022.5" y="932.2" width="4.7" height="19.9" fill="#5ab0ae"/>
<rect x="1029.4" y="932.2" width="11.4" height="19.9" fill="#5ab0ae"/>
<rect x="1019.3" y="961.1" width="24.7" height="26.3" fill="#fff"/>
<rect x="1022.5" y="964.3" width="4.7" height="19.9" fill="#5ab0ae"/>
<rect x="1029.4" y="964.3" width="11.4" height="19.9" fill="#5ab0ae"/>
<rect x="1019.3" y="992.8" width="24.7" height="26.3" fill="#fff"/>
<rect x="1022.5" y="996.0" width="4.7" height="19.9" fill="#5ab0ae"/>
<rect x="1029.4" y="996.0" width="11.4" height="19.9" fill="#5ab0ae"/>
<rect x="1019.3" y="1023.5" width="24.7" height="26.3" fill="#fff"/>
<rect x="1022.5" y="1026.7" width="4.7" height="19.9" fill="#5ab0ae"/>
<rect x="1029.4" y="1026.7" width="11.4" height="19.9" fill="#5ab0ae"/>
<rect x="1055.9" y="897.3" width="24.7" height="26.3" fill="#fff"/>
<rect x="1059.1" y="900.5" width="4.7" height="19.9" fill="#5ab0ae"/>
<rect x="1066.0" y="900.5" width="11.4" height="19.9" fill="#5ab0ae"/>
<rect x="1055.9" y="929.0" width="24.7" height="26.3" fill="#fff"/>
<rect x="1059.1" y="932.2" width="4.7" height="19.9" fill="#5ab0ae"/>
<rect x="1066.0" y="932.2" width="11.4" height="19.9" fill="#5ab0ae"/>
<rect x="1055.9" y="961.1" width="24.7" height="26.3" fill="#fff"/>
<rect x="1059.1" y="964.3" width="4.7" height="19.9" fill="#5ab0ae"/>
<rect x="1066.0" y="964.3" width="11.4" height="19.9" fill="#5ab0ae"/>
<rect x="1055.9" y="992.8" width="24.7" height="26.3" fill="#fff"/>
<rect x="1059.1" y="996.0" width="4.7" height="19.9" fill="#5ab0ae"/>
<rect x="1066.0" y="996.0" width="11.4" height="19.9" fill="#5ab0ae"/>
<rect x="1055.9" y="1023.5" width="24.7" height="26.3" fill="#fff"/>
<rect x="1059.1" y="1026.7" width="4.7" height="19.9" fill="#5ab0ae"/>
<rect x="1066.0" y="1026.7" width="11.4" height="19.9" fill="#5ab0ae"/>
<rect x="1091.7" y="897.3" width="24.7" height="26.3" fill="#fff"/>
<rect x="1094.9" y="900.5" width="4.7" height="19.9" fill="#5ab0ae"/>
<rect x="1101.8" y="900.5" width="11.4" height="19.9" fill="#5ab0ae"/>
<rect x="1091.7" y="929.0" width="24.7" height="26.3" fill="#fff"/>
<rect x="1094.9" y="932.2" width="4.7" height="19.9" fill="#5ab0ae"/>
<rect x="1101.8" y="932.2" width="11.4" height="19.9" fill="#5ab0ae"/>
<rect x="1091.7" y="961.1" width="24.7" height="26.3" fill="#fff"/>
<rect x="1094.9" y="964.3" width="4.7" height="19.9" fill="#5ab0ae"/>
<rect x="1101.8" y="964.3" width="11.4" height="19.9" fill="#5ab0ae"/>
<rect x="1091.7" y="992.8" width="24.7" height="26.3" fill="#fff"/>
<rect x="1094.9" y="996.0" width="4.7" height="19.9" fill="#5ab0ae"/>
<rect x="1101.8" y="996.0" width="11.4" height="19.9" fill="#5ab0ae"/>
<rect x="1091.7" y="1023.5" width="24.7" height="26.3" fill="#fff"/>
<rect x="1094.9" y="1026.7" width="4.7" height="19.9" fill="#5ab0ae"/>
<rect x="1101.8" y="1026.7" width="11.4" height="19.9" fill="#5ab0ae"/>
<rect x="1141.5" y="946.8" width="19.8" height="21.4" fill="#fff"/>
<rect x="1143.9" y="949.2" width="4.2" height="16.6" fill="#5ab0ae"/>
<rect x="1149.7" y="949.2" width="9.2" height="16.6" fill="#5ab0ae"/>
<rect x="1141.5" y="975.4" width="19.8" height="21.4" fill="#fff"/>
<rect x="1143.9" y="977.8" width="4.2" height="16.6" fill="#5ab0ae"/>
<rect x="1149.7" y="977.8" width="9.2" height="16.6" fill="#5ab0ae"/>
<rect x="1141.5" y="1004.1" width="19.8" height="21.4" fill="#fff"/>
<rect x="1143.9" y="1006.5" width="4.2" height="16.6" fill="#5ab0ae"/>
<rect x="1149.7" y="1006.5" width="9.2" height="16.6" fill="#5ab0ae"/>
<rect x="1141.5" y="1032.7" width="19.8" height="21.4" fill="#fff"/>
<rect x="1143.9" y="1035.1" width="4.2" height="16.6" fill="#5ab0ae"/>
<rect x="1149.7" y="1035.1" width="9.2" height="16.6" fill="#5ab0ae"/>
<rect x="1175.5" y="946.8" width="19.8" height="21.4" fill="#fff"/>
<rect x="1177.9" y="949.2" width="4.2" height="16.6" fill="#5ab0ae"/>
<rect x="1183.7" y="949.2" width="9.2" height="16.6" fill="#5ab0ae"/>
<rect x="1175.5" y="975.4" width="19.8" height="21.4" fill="#fff"/>
<rect x="1177.9" y="977.8" width="4.2" height="16.6" fill="#5ab0ae"/>
<rect x="1183.7" y="977.8" width="9.2" height="16.6" fill="#5ab0ae"/>
<rect x="1175.5" y="1004.1" width="19.8" height="21.4" fill="#fff"/>
<rect x="1177.9" y="1006.5" width="4.2" height="16.6" fill="#5ab0ae"/>
<rect x="1183.7" y="1006.5" width="9.2" height="16.6" fill="#5ab0ae"/>
<rect x="1175.5" y="1032.7" width="19.8" height="21.4" fill="#fff"/>
<rect x="1177.9" y="1035.1" width="4.2" height="16.6" fill="#5ab0ae"/>
<rect x="1183.7" y="1035.1" width="9.2" height="16.6" fill="#5ab0ae"/>
<text x="450.3" y="904" font-size="25.3" fill="#36495b" textLength="293.1" lengthAdjust="spacingAndGlyphs" stroke="#36495b" stroke-width="0.65">ХУУЧИН ОРОН СУУЦНЫ</text>
<text x="450.3" y="934.3" font-size="25.3" fill="#36495b" textLength="208.7" lengthAdjust="spacingAndGlyphs" stroke="#36495b" stroke-width="0.65">ҮНИЙН ЖИЛИЙН</text>
<text x="450.3" y="964.5" font-size="25.3" fill="#36495b" textLength="135.7" lengthAdjust="spacingAndGlyphs" stroke="#36495b" stroke-width="0.65">ӨӨРЧЛӨЛТ</text>
<path d="M462.6 1006.5 L486.7 1031.7 H475.9 V1046.8 H449.3 V1031.7 H438.5 Z" fill="#e8622c"/>
<rect x="449.3" y="1051.2" width="26.6" height="5.2" fill="#e8622c"/>
<rect x="449.3" y="1061.6" width="26.6" height="4.2" fill="#e8622c"/>
<text x="507.7" y="1066.6" font-size="82" fill="#e8622c" font-weight="bold" textLength="228.5" lengthAdjust="spacingAndGlyphs" stroke="#e8622c" stroke-width="1.2">10.1%</text>
<text x="1281.4" y="904.3" font-size="25.3" fill="#36495b" textLength="270.7" lengthAdjust="spacingAndGlyphs" stroke="#36495b" stroke-width="0.65">ШИНЭ ОРОН СУУЦНЫ</text>
<text x="1282.6" y="934.7" font-size="25.3" fill="#36495b" textLength="208.9" lengthAdjust="spacingAndGlyphs" stroke="#36495b" stroke-width="0.65">ҮНИЙН ЖИЛИЙН</text>
<text x="1282.6" y="965.1" font-size="25.3" fill="#36495b" textLength="133.5" lengthAdjust="spacingAndGlyphs" stroke="#36495b" stroke-width="0.65">ӨӨРЧЛӨЛТ</text>
<path d="M1291.35 1006.9 L1315.7 1032.2 H1304.8 V1047.4 H1277.9 V1032.2 H1267 Z" fill="#e8622c"/>
<rect x="1277.9" y="1051.7" width="26.9" height="5.2" fill="#e8622c"/>
<rect x="1277.9" y="1062.2" width="26.9" height="4.2" fill="#e8622c"/>
<text x="1336.2" y="1067" font-size="82" fill="#e8622c" font-weight="bold" textLength="228.8" lengthAdjust="spacingAndGlyphs" stroke="#e8622c" stroke-width="1.2">10.8%</text>
<text x="101.6" y="1131" font-size="25.4" fill="#36495b" textLength="354.2" lengthAdjust="spacingAndGlyphs" stroke="#36495b" stroke-width="0.85">ХУУЧИН ОРОН СУУЦНЫ ҮНЭ,</text>
<text x="464.2" y="1131" font-size="25.4" fill="#36495b" textLength="53.3" lengthAdjust="spacingAndGlyphs">м.кв</text>
<text x="951.8" y="1131" font-size="25.4" fill="#36495b" textLength="329.3" lengthAdjust="spacingAndGlyphs" stroke="#36495b" stroke-width="0.85">ШИНЭ ОРОН СУУЦНЫ ҮНЭ,</text>
<text x="1289.4" y="1131" font-size="25.4" fill="#36495b" textLength="52.4" lengthAdjust="spacingAndGlyphs">м.кв</text>
<text x="131.0" y="1444.8" font-size="17.5" fill="#424d56" textLength="7.6" lengthAdjust="spacingAndGlyphs">0</text>
<text x="114.6" y="1414.2" font-size="17.5" fill="#424d56" textLength="24.0" lengthAdjust="spacingAndGlyphs">200</text>
<text x="114.6" y="1383.5" font-size="17.5" fill="#424d56" textLength="24.0" lengthAdjust="spacingAndGlyphs">400</text>
<text x="114.6" y="1352.8" font-size="17.5" fill="#424d56" textLength="24.0" lengthAdjust="spacingAndGlyphs">600</text>
<text x="114.6" y="1322.2" font-size="17.5" fill="#424d56" textLength="24.0" lengthAdjust="spacingAndGlyphs">800</text>
<text x="106.4" y="1291.5" font-size="17.5" fill="#424d56" textLength="32.2" lengthAdjust="spacingAndGlyphs">1000</text>
<text x="106.4" y="1260.8" font-size="17.5" fill="#424d56" textLength="32.2" lengthAdjust="spacingAndGlyphs">1200</text>
<text x="106.4" y="1230.2" font-size="17.5" fill="#424d56" textLength="32.2" lengthAdjust="spacingAndGlyphs">1400</text>
<text x="106.4" y="1199.5" font-size="17.5" fill="#424d56" textLength="32.2" lengthAdjust="spacingAndGlyphs">1600</text>
<text x="106.4" y="1168.8" font-size="17.5" fill="#424d56" textLength="32.2" lengthAdjust="spacingAndGlyphs">1800</text>
<line x1="147.5" y1="1439.7" x2="765" y2="1439.7" stroke="#b4bfc7" stroke-width="1.6"/>
<text x="165.7" y="1461.5" font-size="14.6" fill="#2e3b4b" textLength="6.7" lengthAdjust="spacingAndGlyphs">0</text>
<text x="182.8" y="1461.5" font-size="14.6" fill="#2e3b4b" textLength="19.5" lengthAdjust="spacingAndGlyphs">0.5</text>
<text x="211.8" y="1461.5" font-size="14.6" fill="#2e3b4b" textLength="19.5" lengthAdjust="spacingAndGlyphs">1.0</text>
<text x="237.8" y="1461.5" font-size="14.6" fill="#2e3b4b" textLength="19.5" lengthAdjust="spacingAndGlyphs">1.5</text>
<text x="262.8" y="1461.5" font-size="14.6" fill="#2e3b4b" textLength="19.5" lengthAdjust="spacingAndGlyphs">2.0</text>
<text x="292.2" y="1461.5" font-size="14.6" fill="#2e3b4b" textLength="19.5" lengthAdjust="spacingAndGlyphs">2.5</text>
<text x="320.2" y="1461.5" font-size="14.6" fill="#2e3b4b" textLength="19.5" lengthAdjust="spacingAndGlyphs">3.0</text>
<text x="349.2" y="1461.5" font-size="14.6" fill="#2e3b4b" textLength="19.5" lengthAdjust="spacingAndGlyphs">3.5</text>
<text x="376.8" y="1461.5" font-size="14.6" fill="#2e3b4b" textLength="19.5" lengthAdjust="spacingAndGlyphs">4.0</text>
<text x="407.8" y="1461.5" font-size="14.6" fill="#2e3b4b" textLength="19.5" lengthAdjust="spacingAndGlyphs">4.5</text>
<text x="436.8" y="1461.5" font-size="14.6" fill="#2e3b4b" textLength="19.5" lengthAdjust="spacingAndGlyphs">5.0</text>
<text x="466.2" y="1461.5" font-size="14.6" fill="#2e3b4b" textLength="19.5" lengthAdjust="spacingAndGlyphs">5.5</text>
<text x="493.8" y="1461.5" font-size="14.6" fill="#2e3b4b" textLength="19.5" lengthAdjust="spacingAndGlyphs">6.0</text>
<text x="523.8" y="1461.5" font-size="14.6" fill="#2e3b4b" textLength="19.5" lengthAdjust="spacingAndGlyphs">6.5</text>
<text x="551.8" y="1461.5" font-size="14.6" fill="#2e3b4b" textLength="19.5" lengthAdjust="spacingAndGlyphs">7.0</text>
<text x="581.8" y="1461.5" font-size="14.6" fill="#2e3b4b" textLength="19.5" lengthAdjust="spacingAndGlyphs">7.5</text>
<text x="609.8" y="1461.5" font-size="14.6" fill="#2e3b4b" textLength="19.5" lengthAdjust="spacingAndGlyphs">8.0</text>
<text x="640.2" y="1461.5" font-size="14.6" fill="#2e3b4b" textLength="19.5" lengthAdjust="spacingAndGlyphs">8.5</text>
<text x="669.2" y="1461.5" font-size="14.6" fill="#2e3b4b" textLength="19.5" lengthAdjust="spacingAndGlyphs">9.0</text>
<text x="699.2" y="1461.5" font-size="14.6" fill="#2e3b4b" textLength="19.5" lengthAdjust="spacingAndGlyphs">9.5</text>
<text x="727.2" y="1461.5" font-size="14.6" fill="#2e3b4b" textLength="27.5" lengthAdjust="spacingAndGlyphs">10.0</text>
<rect x="340" y="1210" width="17" height="229.2" fill="#1458a6" />
<rect x="357" y="1180.5" width="17.5" height="258.7" fill="#17999b" />
<polyline points="169,1439 200,1439 225,1438.5 255,1420 283.5,1345 312.5,1193.5 340,1237.5 370,1295 400,1357.5 427.5,1394 455,1400.5 485,1406.5 515,1417.5 542.5,1430 572.5,1432.5 600,1428.5 630,1433.5 657.5,1436 687.5,1436.5 715,1438.5 742.5,1433" fill="none" stroke="#e2633a" stroke-width="1.8" stroke-linejoin="round"/>
<text x="160.4" y="1198.8" font-size="23.5" fill="#1458a6" font-weight="bold" textLength="137.4" lengthAdjust="spacingAndGlyphs">3 338 250 ₮</text>
<text x="404.4" y="1242.5" font-size="23.5" fill="#17999b" font-weight="bold" textLength="138.6" lengthAdjust="spacingAndGlyphs">3 806 702 ₮</text>
<text x="435" y="1359" font-size="22" fill="#e8622c" textLength="181.5" lengthAdjust="spacingAndGlyphs">тархалтын муруй</text>
<line x1="404" y1="1367.5" x2="427.5" y2="1356" stroke="#e8622c" stroke-width="1.7"/>
<text x="389" y="1489" font-size="17.2" fill="#2e3b4b" textLength="101" lengthAdjust="spacingAndGlyphs">/сая төгрөг/</text>
<rect x="252.5" y="1509" width="13" height="12.8" fill="#1458a6" />
<text x="282.5" y="1521.5" font-size="20.4" fill="#2e3b4b" textLength="112.5" lengthAdjust="spacingAndGlyphs">Медиан үнэ</text>
<rect x="478.5" y="1509" width="13" height="12.8" fill="#17999b" />
<text x="512.5" y="1521.5" font-size="20.4" fill="#2e3b4b" textLength="112.5" lengthAdjust="spacingAndGlyphs">Дундаж үнэ</text>
<text x="959.6" y="1445.6" font-size="18.5" fill="#424d56" textLength="8.8" lengthAdjust="spacingAndGlyphs">0</text>
<text x="941.0" y="1415.0" font-size="18.5" fill="#424d56" textLength="27.4" lengthAdjust="spacingAndGlyphs">100</text>
<text x="941.0" y="1384.4" font-size="18.5" fill="#424d56" textLength="27.4" lengthAdjust="spacingAndGlyphs">200</text>
<text x="941.0" y="1353.8" font-size="18.5" fill="#424d56" textLength="27.4" lengthAdjust="spacingAndGlyphs">300</text>
<text x="941.0" y="1323.2" font-size="18.5" fill="#424d56" textLength="27.4" lengthAdjust="spacingAndGlyphs">400</text>
<text x="941.0" y="1292.6" font-size="18.5" fill="#424d56" textLength="27.4" lengthAdjust="spacingAndGlyphs">500</text>
<text x="941.0" y="1262.0" font-size="18.5" fill="#424d56" textLength="27.4" lengthAdjust="spacingAndGlyphs">600</text>
<text x="941.0" y="1231.4" font-size="18.5" fill="#424d56" textLength="27.4" lengthAdjust="spacingAndGlyphs">700</text>
<text x="941.0" y="1200.9" font-size="18.5" fill="#424d56" textLength="27.4" lengthAdjust="spacingAndGlyphs">800</text>
<text x="941.0" y="1170.3" font-size="18.5" fill="#424d56" textLength="27.4" lengthAdjust="spacingAndGlyphs">900</text>
<line x1="978" y1="1440.2" x2="1595.5" y2="1440.2" stroke="#b4bfc7" stroke-width="1.6"/>
<text x="985.6" y="1461" font-size="14.6" fill="#2e3b4b" textLength="6.7" lengthAdjust="spacingAndGlyphs">0</text>
<text x="1002.8" y="1461" font-size="14.6" fill="#2e3b4b" textLength="19.5" lengthAdjust="spacingAndGlyphs">0.5</text>
<text x="1032.2" y="1461" font-size="14.6" fill="#2e3b4b" textLength="19.5" lengthAdjust="spacingAndGlyphs">1.0</text>
<text x="1058.8" y="1461" font-size="14.6" fill="#2e3b4b" textLength="19.5" lengthAdjust="spacingAndGlyphs">1.5</text>
<text x="1083.2" y="1461" font-size="14.6" fill="#2e3b4b" textLength="19.5" lengthAdjust="spacingAndGlyphs">2.0</text>
<text x="1112.2" y="1461" font-size="14.6" fill="#2e3b4b" textLength="19.5" lengthAdjust="spacingAndGlyphs">2.5</text>
<text x="1140.2" y="1461" font-size="14.6" fill="#2e3b4b" textLength="19.5" lengthAdjust="spacingAndGlyphs">3.0</text>
<text x="1169.2" y="1461" font-size="14.6" fill="#2e3b4b" textLength="19.5" lengthAdjust="spacingAndGlyphs">3.5</text>
<text x="1197.2" y="1461" font-size="14.6" fill="#2e3b4b" textLength="19.5" lengthAdjust="spacingAndGlyphs">4.0</text>
<text x="1227.8" y="1461" font-size="14.6" fill="#2e3b4b" textLength="19.5" lengthAdjust="spacingAndGlyphs">4.5</text>
<text x="1257.2" y="1461" font-size="14.6" fill="#2e3b4b" textLength="19.5" lengthAdjust="spacingAndGlyphs">5.0</text>
<text x="1286.2" y="1461" font-size="14.6" fill="#2e3b4b" textLength="19.5" lengthAdjust="spacingAndGlyphs">5.5</text>
<text x="1314.2" y="1461" font-size="14.6" fill="#2e3b4b" textLength="19.5" lengthAdjust="spacingAndGlyphs">6.0</text>
<text x="1343.8" y="1461" font-size="14.6" fill="#2e3b4b" textLength="19.5" lengthAdjust="spacingAndGlyphs">6.5</text>
<text x="1372.2" y="1461" font-size="14.6" fill="#2e3b4b" textLength="19.5" lengthAdjust="spacingAndGlyphs">7.0</text>
<text x="1402.2" y="1461" font-size="14.6" fill="#2e3b4b" textLength="19.5" lengthAdjust="spacingAndGlyphs">7.5</text>
<text x="1430.2" y="1461" font-size="14.6" fill="#2e3b4b" textLength="19.5" lengthAdjust="spacingAndGlyphs">8.0</text>
<text x="1460.2" y="1461" font-size="14.6" fill="#2e3b4b" textLength="19.5" lengthAdjust="spacingAndGlyphs">8.5</text>
<text x="1489.2" y="1461" font-size="14.6" fill="#2e3b4b" textLength="19.5" lengthAdjust="spacingAndGlyphs">9.0</text>
<text x="1519.2" y="1461" font-size="14.6" fill="#2e3b4b" textLength="19.5" lengthAdjust="spacingAndGlyphs">9.5</text>
<text x="1548.2" y="1461" font-size="14.6" fill="#2e3b4b" textLength="27.5" lengthAdjust="spacingAndGlyphs">10.0</text>
<rect x="1172" y="1220" width="19.5" height="219.7" fill="#1458a6" />
<rect x="1191.5" y="1165" width="18.5" height="274.7" fill="#17999b" />
<polyline points="993,1439.5 1050.5,1439.5 1078,1435 1107,1386.5 1135.5,1215 1164,1205 1191.5,1349 1220.5,1369 1249,1388.5 1277,1360.5 1305.5,1373.5 1333,1421 1362,1418 1390.5,1424.5 1418,1428.5 1447,1429 1475.5,1433.5 1504,1436 1532,1439 1560.5,1439" fill="none" stroke="#e2633a" stroke-width="1.8" stroke-linejoin="round"/>
<text x="1010.8" y="1198.5" font-size="23.5" fill="#1458a6" font-weight="bold" textLength="136" lengthAdjust="spacingAndGlyphs">3 450 000 ₮</text>
<text x="1239.6" y="1245.4" font-size="23.5" fill="#17999b" font-weight="bold" textLength="132" lengthAdjust="spacingAndGlyphs">4 026 454₮</text>
<text x="1348" y="1388.5" font-size="22" fill="#e8622c" textLength="181.5" lengthAdjust="spacingAndGlyphs">тархалтын муруй</text>
<line x1="1316.5" y1="1389.5" x2="1339" y2="1382.5" stroke="#e8622c" stroke-width="1.7"/>
<text x="1204.5" y="1488" font-size="17.2" fill="#2e3b4b" textLength="99.5" lengthAdjust="spacingAndGlyphs">/сая төгрөг/</text>
<rect x="1103" y="1507.5" width="13" height="12.8" fill="#1458a6" />
<text x="1137" y="1520.5" font-size="20.4" fill="#2e3b4b" textLength="112" lengthAdjust="spacingAndGlyphs">Медиан үнэ</text>
<rect x="1334.5" y="1507.5" width="13" height="12.8" fill="#17999b" />
<text x="1370.5" y="1520.5" font-size="20.4" fill="#2e3b4b" textLength="112.5" lengthAdjust="spacingAndGlyphs">Дундаж үнэ</text>
<text x="101.8" y="1599.8" font-size="25.3" fill="#36495b" textLength="475.6" lengthAdjust="spacingAndGlyphs" stroke="#36495b" stroke-width="0.85">ХУУЧИН ОРОН СУУЦНЫ ДУНДАЖ ҮНЭ,</text>
<text x="585.7" y="1599.8" font-size="25.3" fill="#36495b" textLength="58.6" lengthAdjust="spacingAndGlyphs">м.кв,</text>
<text x="101.5" y="1629.4" font-size="25.5" fill="#36495b" textLength="243.5" lengthAdjust="spacingAndGlyphs">дүүргээр, сая төгрөг</text>
<rect x="338.6" y="1662.7" width="425.5" height="29" fill="#e9672b" />
<text x="134.7" y="1686.1" font-size="22.7" fill="#36495b" textLength="113.2" lengthAdjust="spacingAndGlyphs">Сүхбаатар</text>
<text x="773.9" y="1686.3" font-size="26.2" fill="#e8622c" textLength="50.7" lengthAdjust="spacingAndGlyphs" stroke="#e8622c" stroke-width="0.6">4.45</text>
<rect x="338.6" y="1698.6" width="414.2" height="29" fill="#3f96d3" />
<text x="134.7" y="1723.8" font-size="22.7" fill="#36495b" textLength="115.1" lengthAdjust="spacingAndGlyphs">Чингэлтэй</text>
<text x="764.5" y="1722.2" font-size="26.2" fill="#3f93cf" textLength="49.5" lengthAdjust="spacingAndGlyphs" stroke="#3f93cf" stroke-width="0.6">4.33</text>
<rect x="338.6" y="1734.5" width="414.2" height="29" fill="#3f96d3" />
<text x="135.9" y="1759.1" font-size="22.7" fill="#36495b" textLength="86.4" lengthAdjust="spacingAndGlyphs">Хан-Уул</text>
<text x="760.2" y="1758.1" font-size="26.2" fill="#3f93cf" textLength="49.8" lengthAdjust="spacingAndGlyphs" stroke="#3f93cf" stroke-width="0.6">4.32</text>
<rect x="338.6" y="1770.4" width="364.4" height="29" fill="#0c8e95" />
<text x="135.4" y="1794.8" font-size="22.7" fill="#36495b" textLength="87.3" lengthAdjust="spacingAndGlyphs">Дундаж</text>
<text x="713.8" y="1794.0" font-size="26.2" fill="#0c8a90" textLength="48.1" lengthAdjust="spacingAndGlyphs" stroke="#0c8a90" stroke-width="0.6">3.81</text>
<rect x="338.6" y="1806.3" width="329.1" height="29" fill="#3f96d3" />
<text x="135.0" y="1833" font-size="22.7" fill="#36495b" textLength="101.4" lengthAdjust="spacingAndGlyphs">Баянзүрх</text>
<text x="679.8" y="1829.9" font-size="26.2" fill="#3f93cf" textLength="49.4" lengthAdjust="spacingAndGlyphs" stroke="#3f93cf" stroke-width="0.6">3.43</text>
<rect x="338.6" y="1842.2" width="313.7" height="29" fill="#3f96d3" />
<text x="135.0" y="1868.2" font-size="22.7" fill="#36495b" textLength="88.9" lengthAdjust="spacingAndGlyphs">Баянгол</text>
<text x="661.7" y="1865.8" font-size="26.2" fill="#3f93cf" textLength="50.3" lengthAdjust="spacingAndGlyphs" stroke="#3f93cf" stroke-width="0.6">3.28</text>
<rect x="338.6" y="1878.1" width="254.0" height="29" fill="#3f96d3" />
<text x="135.4" y="1901.2" font-size="22.7" fill="#36495b" textLength="178.3" lengthAdjust="spacingAndGlyphs">Сонгинохайрхан</text>
<text x="604.2" y="1901.7" font-size="26.2" fill="#3f93cf" textLength="49.4" lengthAdjust="spacingAndGlyphs" stroke="#3f93cf" stroke-width="0.6">2.66</text>
<rect x="326.5" y="1936.5" width="13" height="12.6" fill="#e9672b" />
<text x="355" y="1950" font-size="20.3" fill="#2e3b4b" textLength="146.5" lengthAdjust="spacingAndGlyphs">Хамгийн их үнэ</text>
<rect x="575" y="1936.5" width="13" height="12.6" fill="#0c8e95" />
<text x="607.5" y="1950" font-size="20.3" fill="#2e3b4b" textLength="112.5" lengthAdjust="spacingAndGlyphs">Дундаж үнэ</text>
<text x="936.8" y="1599.8" font-size="25.3" fill="#36495b" textLength="449.6" lengthAdjust="spacingAndGlyphs" stroke="#36495b" stroke-width="0.85">ШИНЭ ОРОН СУУЦНЫ ДУНДАЖ ҮНЭ,</text>
<text x="1394.7" y="1599.8" font-size="25.3" fill="#36495b" textLength="59.3" lengthAdjust="spacingAndGlyphs">м.кв,</text>
<text x="936.5" y="1629.4" font-size="25.5" fill="#36495b" textLength="242.5" lengthAdjust="spacingAndGlyphs">дүүргээр, сая төгрөг</text>
<rect x="1190.8" y="1662.2" width="414.4" height="29" fill="#e9672b" />
<text x="974.7" y="1687.8" font-size="22.7" fill="#36495b" textLength="86.6" lengthAdjust="spacingAndGlyphs">Хан-Уул</text>
<text x="1621.4" y="1685.8" font-size="26.2" fill="#e8622c" textLength="50.3" lengthAdjust="spacingAndGlyphs" stroke="#e8622c" stroke-width="0.6">4.30</text>
<rect x="1190.8" y="1698.1" width="388.5" height="29" fill="#3f96d3" />
<text x="974.2" y="1723.5" font-size="22.7" fill="#36495b" textLength="89.7" lengthAdjust="spacingAndGlyphs">Баянгол</text>
<text x="1593.2" y="1721.7" font-size="26.2" fill="#3f93cf" textLength="50.7" lengthAdjust="spacingAndGlyphs" stroke="#3f93cf" stroke-width="0.6">4.04</text>
<rect x="1190.8" y="1734.0" width="388.5" height="29" fill="#0c8e95" />
<text x="975.0" y="1759.1" font-size="22.7" fill="#36495b" textLength="87.7" lengthAdjust="spacingAndGlyphs">Дундаж</text>
<text x="1591.8" y="1757.6" font-size="26.2" fill="#0c8a90" textLength="49.8" lengthAdjust="spacingAndGlyphs" stroke="#0c8a90" stroke-width="0.6">4.03</text>
<rect x="1190.8" y="1769.9" width="377.8" height="29" fill="#3f96d3" />
<text x="974.5" y="1797.3" font-size="22.7" fill="#36495b" textLength="113.1" lengthAdjust="spacingAndGlyphs">Сүхбаатар</text>
<text x="1581.5" y="1793.5" font-size="26.2" fill="#3f93cf" textLength="50.7" lengthAdjust="spacingAndGlyphs" stroke="#3f93cf" stroke-width="0.6">3.92</text>
<rect x="1190.8" y="1805.8" width="352.9" height="29" fill="#3f96d3" />
<text x="974.2" y="1832.1" font-size="22.7" fill="#36495b" textLength="101.4" lengthAdjust="spacingAndGlyphs">Баянзүрх</text>
<text x="1557.5" y="1829.4" font-size="26.2" fill="#3f93cf" textLength="50.3" lengthAdjust="spacingAndGlyphs" stroke="#3f93cf" stroke-width="0.6">3.66</text>
<rect x="1190.8" y="1841.7" width="330.7" height="29" fill="#3f96d3" />
<text x="974.7" y="1865.6" font-size="22.7" fill="#36495b" textLength="114.6" lengthAdjust="spacingAndGlyphs">Чингэлтэй</text>
<text x="1537.4" y="1865.3" font-size="26.2" fill="#3f93cf" textLength="49.3" lengthAdjust="spacingAndGlyphs" stroke="#3f93cf" stroke-width="0.6">3.43</text>
<rect x="1190.8" y="1877.6" width="264.9" height="29" fill="#3f96d3" />
<text x="974.7" y="1903.4" font-size="22.7" fill="#36495b" textLength="178.2" lengthAdjust="spacingAndGlyphs">Сонгинохайрхан</text>
<text x="1471.5" y="1901.2" font-size="26.2" fill="#3f93cf" textLength="49.9" lengthAdjust="spacingAndGlyphs" stroke="#3f93cf" stroke-width="0.6">2.75</text>
<rect x="1083" y="1936" width="13" height="12.6" fill="#e9672b" />
<text x="1113" y="1949" font-size="20.3" fill="#2e3b4b" textLength="146.5" lengthAdjust="spacingAndGlyphs">Хамгийн их үнэ</text>
<rect x="1333" y="1936" width="13" height="12.6" fill="#0c8e95" />
<text x="1367" y="1949" font-size="20.3" fill="#2e3b4b" textLength="113.5" lengthAdjust="spacingAndGlyphs">Дундаж үнэ</text>
<text x="86" y="2004" font-size="17.8" fill="#2e3b4b" textLength="611.5" lengthAdjust="spacingAndGlyphs" font-style="italic">Эх үүсвэр: Үндэсний Статистикийн хорооны орон сууцны үнийн мэдээлэл</text>
</svg>
</body></html>
